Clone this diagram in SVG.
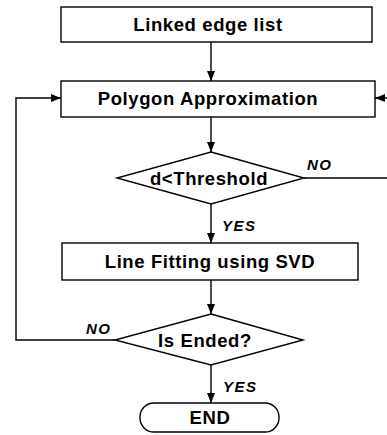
<svg xmlns="http://www.w3.org/2000/svg" width="387" height="435" viewBox="0 0 387 435">
<defs>
<style>
.n{fill:#fff;stroke:#000;stroke-width:1.4}
.t{font-family:"Liberation Sans",Arial,sans-serif;font-weight:bold;font-size:18.5px;letter-spacing:0.6px;text-anchor:middle;fill:#000}
.l{font-family:"Liberation Sans",Arial,sans-serif;font-weight:bold;font-style:italic;font-size:15px;letter-spacing:1.5px;fill:#000}
.c{fill:none;stroke:#000;stroke-width:1.4}
</style>
<marker id="a" viewBox="0 0 10 8" refX="10" refY="4" markerWidth="10" markerHeight="8" markerUnits="userSpaceOnUse" orient="auto">
<path d="M0,0 L10,4 L0,8 Z" fill="#000"/>
</marker>
</defs>
<rect width="387" height="435" fill="#fff"/>
<g id="connectors">
<line class="c" x1="211" y1="42" x2="211" y2="81" marker-end="url(#a)"/>
<line class="c" x1="211" y1="117" x2="211" y2="152" marker-end="url(#a)"/>
<line class="c" x1="211" y1="204" x2="211" y2="243" marker-end="url(#a)"/>
<line class="c" x1="211" y1="280" x2="211" y2="314" marker-end="url(#a)"/>
<line class="c" x1="211" y1="365" x2="211" y2="403" marker-end="url(#a)"/>
<polyline class="c" points="304,178 387,178"/>
<line class="c" x1="387" y1="98" x2="375" y2="98" marker-end="url(#a)"/>
<polyline class="c" points="115,340 16,340 16,98 61,98" marker-end="url(#a)"/>
<text class="l" x="307" y="170">NO</text>
<text class="l" x="222" y="231">YES</text>
<text class="l" x="86" y="334">NO</text>
<text class="l" x="223" y="392">YES</text>
</g>
<g id="linked-edge-list">
<rect class="n" x="61" y="7" width="311" height="35"/>
<text class="t" x="208" y="31">Linked edge list</text>
</g>
<g id="polygon-approximation">
<rect class="n" x="61" y="81" width="314" height="36"/>
<text class="t" x="208" y="105">Polygon Approximation</text>
</g>
<g id="threshold">
<polygon class="n" points="211,152 304,178 211,204 117,178"/>
<text class="t" x="209" y="185">d&lt;Threshold</text>
</g>
<g id="line-fitting">
<rect class="n" x="62" y="243" width="296" height="37"/>
<text class="t" x="210" y="268">Line Fitting using SVD</text>
</g>
<g id="is-ended">
<polygon class="n" points="211,314 303,340 211,365 115,340"/>
<text class="t" x="205" y="347">Is Ended?</text>
</g>
<g id="end">
<rect class="n" x="140" y="403" width="139" height="29" rx="14" ry="14"/>
<text class="t" x="210" y="424">END</text>
</g>
</svg>
